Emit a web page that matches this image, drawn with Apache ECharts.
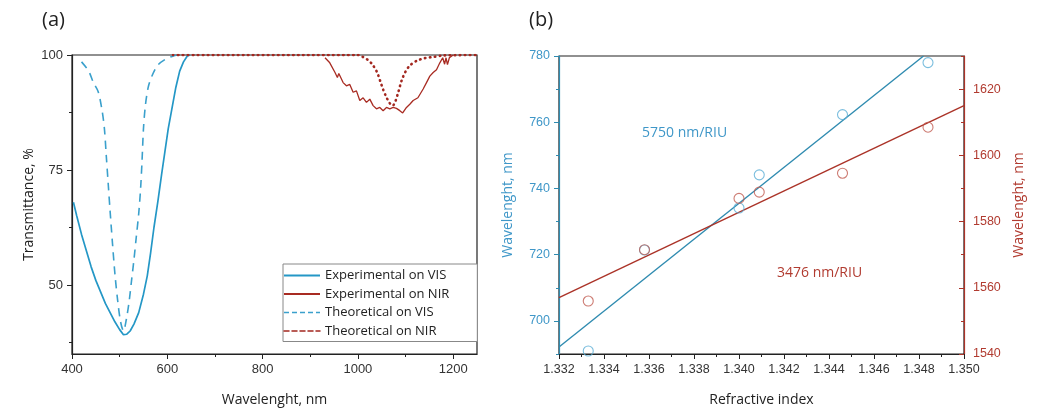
<!DOCTYPE html>
<html>
<head>
<meta charset="utf-8">
<script src="https://cdn.jsdelivr.net/npm/echarts@6/dist/echarts.min.js"></script>
<style>
  html, body { margin: 0; padding: 0; background: #fff; }
  #chart { width: 1037px; height: 412px; }
</style>
</head>
<body>
<div id="chart"></div>
<script>
// (a) transmittance spectra
const visExpNm = [403, 410, 420, 430, 440, 450, 460, 470, 480, 490, 500, 508, 515, 522, 530, 540, 550, 558, 565, 572, 580, 588, 595, 602, 610, 618, 626, 634, 642, 648];
const visExpT  = [68, 65, 61, 57.5, 54, 51, 48.5, 46, 44, 42, 40.3, 39.2, 39.3, 40, 41.5, 44, 48, 52, 57, 62.5, 68, 74, 79, 84, 88.5, 93, 96.5, 98.5, 99.8, 100];

const nirExpNm = [931, 941, 952, 957, 960, 969, 976, 983, 990, 997, 1004, 1011, 1018, 1025, 1032, 1039, 1046, 1053, 1060, 1067, 1074, 1081, 1088, 1094, 1102, 1109, 1116, 1126, 1137, 1144, 1151, 1158, 1165, 1172, 1178, 1182, 1185, 1188, 1192, 1195, 1200];
const nirExpT  = [99.4, 98.3, 96.2, 95.1, 96, 94, 93.3, 93.6, 91.9, 92.2, 90.1, 90.7, 89.7, 90.4, 89, 88.3, 88.6, 87.9, 88.6, 88.3, 88.6, 88.4, 87.9, 87.4, 88.6, 89.3, 90.1, 90.7, 92.6, 94, 95.4, 96.2, 96.8, 98.3, 99.4, 98, 99.4, 97.9, 99.4, 99.8, 100];

const visTheoNm = [420, 435, 445, 455, 463, 468, 472, 476, 480, 485, 490, 496, 502, 508, 514, 520, 525, 530, 535, 540, 544, 547, 550, 554, 560, 568, 580, 595, 610, 620];
const visTheoT  = [98.5, 96.5, 94, 92, 88, 84, 78, 72, 66, 59, 52.5, 46.5, 42, 40, 42.5, 46.5, 51, 55.5, 60.5, 65.5, 71, 77, 84, 89, 93, 95.5, 97.8, 99, 99.7, 100];

const nirTheoNm = [612, 1000, 1010, 1020, 1030, 1040, 1047, 1053, 1060, 1067, 1073, 1079, 1085, 1092, 1100, 1110, 1125, 1140, 1160, 1180, 1250];
const nirTheoT  = [100, 100, 99.6, 99, 98, 96.3, 94.3, 92.5, 90.8, 89.5, 89, 90, 92, 94.5, 96.4, 97.8, 98.8, 99.3, 99.6, 99.9, 100];

const aXMajor = [400, 600, 800, 1000, 1200];
const aXMinor = [500, 700, 900, 1100];
const aYMajor = [50, 75, 100];
const aYMinor = [37.5, 62.5, 87.5];

// (b) resonance position vs refractive index
const riIndex   = [1.3333, 1.3358, 1.3400, 1.3409, 1.3446, 1.3484];
const visPeak   = [690.9, 721.4, 734.1, 744.1, 762.3, 778.0];
const nirPeak   = [1556.0, 1571.5, 1587.0, 1588.9, 1594.6, 1608.5];
const visFitX   = [1.332, 1.3482];
const visFitY   = [692.1, 780];
const nirFitX   = [1.332, 1.350];
const nirFitY   = [1557, 1615];

const bXMajor = [1.332, 1.334, 1.336, 1.338, 1.340, 1.342, 1.344, 1.346, 1.348, 1.350];
const bXMinor = [1.333, 1.335, 1.337, 1.339, 1.341, 1.343, 1.345, 1.347, 1.349];
const bLMajor = [700, 720, 740, 760, 780];
const bLMinor = [690, 710, 730, 750, 770];
const bRMajor = [1540, 1560, 1580, 1600, 1620];
const bRMinor = [1550, 1570, 1590, 1610, 1630];

const zip = (xs, ys) => xs.map((x, i) => [x, ys[i]]);

const BLUE = "#2497c6";
const BLUE_B = "#2f8bb0";
const BLUE_PT = "#5aaed6";
const BLUE_TXT = "#3f97c8";
const RED = "#a82b22";
const RED_B = "#ab3328";
const RED_PT = "#c05b50";
const RED_TXT = "#b13b30";
const TICK_FONT = "Liberation Sans";
const NAME_FONT = "Open Sans";

// one axis that carries the major ticks/labels, a twin for the minor ticks
const axisPair = (opt) => {
  const base = {
    gridIndex: opt.grid,
    type: "value",
    min: opt.min,
    max: opt.max,
    position: opt.position,
    splitLine: { show: false },
  };
  const major = {
    ...base,
    name: opt.name,
    nameLocation: "middle",
    nameGap: opt.nameGap,
    nameTextStyle: { fontFamily: NAME_FONT, fontSize: 14, color: opt.nameColor || "#222" },
    axisLine: { show: true, onZero: false, lineStyle: { color: opt.lineColor || "#222", width: 1.2 } },
    axisTick: { show: true, inside: !!opt.inside, length: 5, customValues: opt.major, lineStyle: { color: opt.lineColor || "#222" } },
    axisLabel: {
      customValues: opt.major,
      margin: 9,
      fontFamily: TICK_FONT,
      fontSize: opt.fontSize || 13,
      color: opt.labelColor || "#333",
      formatter: opt.formatter || ((v) => String(v)),
    },
  };
  const minor = {
    ...base,
    axisLine: { show: false, onZero: false },
    axisTick: { show: true, inside: !!opt.inside, length: 3, customValues: opt.minor, lineStyle: { color: opt.lineColor || "#222" } },
    axisLabel: { show: false },
  };
  return [major, minor];
};

const xAxes = [
  ...axisPair({ grid: 0, min: 400, max: 1250, position: "bottom", name: "Wavelenght, nm", nameGap: 39, major: aXMajor, minor: aXMinor }),
  ...axisPair({ grid: 1, min: 1.332, max: 1.350, position: "bottom", name: "Refractive index", nameGap: 39, major: bXMajor, minor: bXMinor, fontSize: 12.5, formatter: (v) => v.toFixed(3) }),
];
const yAxes = [
  ...axisPair({ grid: 0, min: 35, max: 100, position: "left", name: "Transmittance, %", nameGap: 36, major: aYMajor, minor: aYMinor }),
  ...axisPair({ grid: 1, min: 690, max: 780, position: "left", name: "Wavelenght, nm", nameGap: 44, major: bLMajor, minor: bLMinor, fontSize: 12.5, lineColor: BLUE_B, labelColor: BLUE_TXT, nameColor: BLUE_TXT }),
  ...axisPair({ grid: 1, min: 1540, max: 1630, position: "right", name: "Wavelenght, nm", nameGap: 48, major: bRMajor, minor: bRMinor, fontSize: 12.5, inside: true, lineColor: RED_B, labelColor: RED_TXT, nameColor: RED_TXT }),
];
// right axis name reads bottom-to-top like the left one
yAxes[4].nameRotate = 90;

const chart = echarts.init(document.getElementById("chart"));

chart.setOption({
  animation: false,
  backgroundColor: "#fff",
  grid: [
    { left: 72, top: 55, width: 405, height: 304, show: true, borderColor: "#222", borderWidth: 1.2, backgroundColor: "transparent" },
    { left: 559, top: 56, width: 405, height: 303, show: true, borderColor: "#222", borderWidth: 1.2, backgroundColor: "transparent" },
  ],
  xAxis: xAxes,
  yAxis: yAxes,
  legend: {
    left: 283,
    top: 264,
    orient: "vertical",
    itemWidth: 36,
    itemHeight: 14,
    itemGap: 5.5,
    padding: [5, 28, 4, 0],
    backgroundColor: "#fff",
    borderColor: "#888",
    borderWidth: 1,
    itemStyle: { opacity: 0 },
    textStyle: { fontFamily: NAME_FONT, fontSize: 13, color: "#222" },
    data: [
      { name: "Experimental on VIS" },
      { name: "Experimental on NIR" },
      { name: "Theoretical on VIS", lineStyle: { type: [5, 3], width: 1.5 } },
      { name: "Theoretical on NIR", lineStyle: { type: [5, 3], width: 1.5 } },
    ],
  },
  graphic: [
    { type: "text", left: 42, top: 10, style: { text: "(a)", fontFamily: NAME_FONT, fontSize: 20, fill: "#222" } },
    { type: "text", left: 529, top: 10, style: { text: "(b)", fontFamily: NAME_FONT, fontSize: 20, fill: "#222" } },
    { type: "text", left: 642, top: 126, style: { text: "5750 nm/RIU", fontFamily: NAME_FONT, fontSize: 14, fill: BLUE_TXT } },
    { type: "text", left: 777, top: 266, style: { text: "3476 nm/RIU", fontFamily: NAME_FONT, fontSize: 14, fill: RED_TXT } },
  ],
  series: [
    {
      name: "Experimental on VIS",
      type: "line",
      xAxisIndex: 0, yAxisIndex: 0,
      data: zip(visExpNm, visExpT),
      showSymbol: false, symbol: "none",
      color: BLUE,
      lineStyle: { width: 1.7, color: BLUE },
      z: 4,
    },
    {
      name: "Experimental on NIR",
      type: "line",
      xAxisIndex: 0, yAxisIndex: 0,
      data: zip(nirExpNm, nirExpT),
      showSymbol: false, symbol: "none",
      color: RED,
      lineStyle: { width: 1.3, color: RED },
      z: 4,
    },
    {
      name: "Theoretical on VIS",
      type: "line",
      xAxisIndex: 0, yAxisIndex: 0,
      data: zip(visTheoNm, visTheoT),
      showSymbol: false, symbol: "none",
      smooth: 0.3,
      color: "#3aa0cc",
      lineStyle: { width: 1.6, color: "#3aa0cc", type: [8, 6] },
      z: 3,
    },
    {
      name: "Theoretical on NIR",
      type: "line",
      xAxisIndex: 0, yAxisIndex: 0,
      data: zip(nirTheoNm, nirTheoT),
      showSymbol: false, symbol: "none",
      smooth: 0.3,
      color: "#a3271f",
      lineStyle: { width: 2.6, color: "#a3271f", type: [0.5, 4.5], cap: "round" },
      z: 5,
    },
    {
      type: "line",
      xAxisIndex: 2, yAxisIndex: 2,
      data: zip(visFitX, visFitY),
      showSymbol: false, symbol: "none",
      lineStyle: { width: 1.4, color: BLUE_B },
    },
    {
      type: "line",
      xAxisIndex: 2, yAxisIndex: 4,
      data: zip(nirFitX, nirFitY),
      showSymbol: false, symbol: "none",
      lineStyle: { width: 1.4, color: RED_B },
    },
    {
      type: "scatter",
      xAxisIndex: 2, yAxisIndex: 2,
      data: zip(riIndex, visPeak),
      symbol: "circle",
      symbolSize: 10,
      itemStyle: { color: "rgba(255,255,255,0)", borderColor: BLUE_PT, borderWidth: 1.1 },
      z: 6,
    },
    {
      type: "scatter",
      xAxisIndex: 2, yAxisIndex: 4,
      data: zip(riIndex, nirPeak),
      symbol: "circle",
      symbolSize: 10,
      itemStyle: { color: "rgba(255,255,255,0)", borderColor: RED_PT, borderWidth: 1.1 },
      z: 6,
    },
  ],
});
</script>
</body>
</html>
